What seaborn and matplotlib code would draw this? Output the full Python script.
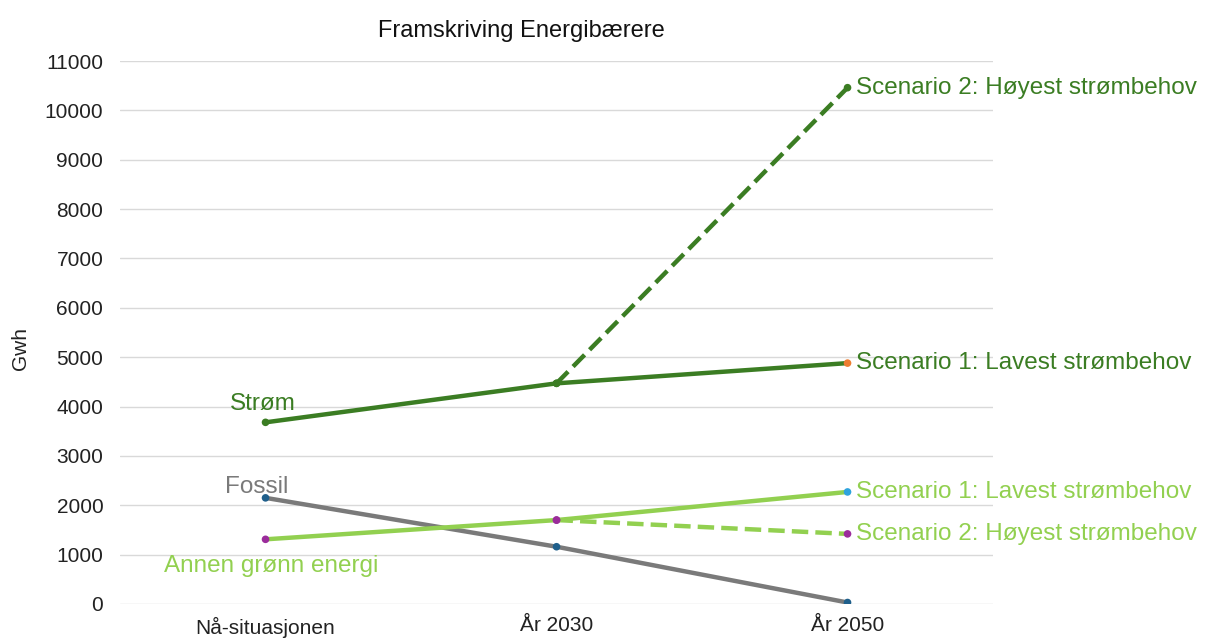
import matplotlib
matplotlib.use("Agg")
import matplotlib.pyplot as plt
import pandas as pd
import seaborn as sns

# data (GWh)
periods = ["Nå-situasjonen", "År 2030", "År 2050"]
strom_s1 = [3680, 4470, 4880]
strom_s2 = [4470, 10460]           # 2030 -> 2050, high-demand scenario
fossil = [2150, 1160, 30]
annen_s1 = [1310, 1700, 2270]
annen_s2 = [1700, 1420]             # 2030 -> 2050, high-demand scenario

DARK_GREEN = "#3b7d23"
LIGHT_GREEN = "#92d050"
GREY = "#7a7a7a"

sns.set_theme(style="white")
plt.rcParams["font.family"] = ["Liberation Sans", "DejaVu Sans"]

fig = plt.figure(figsize=(12.05, 6.39), dpi=100)
ax = fig.add_axes([0.0996, 0.0548, 0.7245, 0.8497])

series = [
    (periods, strom_s1, DARK_GREEN, "-", [DARK_GREEN, DARK_GREEN, "#ed7d31"]),
    (periods[1:], strom_s2, DARK_GREEN, "--", [DARK_GREEN, DARK_GREEN]),
    (periods, fossil, GREY, "-", ["#1f5f8b"] * 3),
    (periods, annen_s1, LIGHT_GREEN, "-", ["#9b2c9b", "#9b2c9b", "#2ea3dd"]),
    (periods[1:], annen_s2, LIGHT_GREEN, "--", ["#9b2c9b", "#9b2c9b"]),
]

# draw lines on a shared categorical axis
for x, y, color, ls, _ in series:
    df = pd.DataFrame({"period": pd.Categorical(x, categories=periods), "gwh": y})
    sns.lineplot(data=df, x="period", y="gwh", color=color, linewidth=3.2,
                 linestyle=ls, sort=False, ax=ax, zorder=2)
for x, y, _, _, dot_colors in series:
    df = pd.DataFrame({"period": pd.Categorical(x, categories=periods), "gwh": y})
    sns.scatterplot(data=df, x="period", y="gwh", color=dot_colors, s=30,
                    edgecolor="none", ax=ax, zorder=3)

ax.set_xlim(-0.5, 2.5)
ax.set_ylim(0, 11000)
ax.set_yticks(range(0, 11001, 1000))
ax.yaxis.grid(True, color="#d9d9d9", linewidth=1)
ax.set_axisbelow(True)
for side in ["top", "right", "left", "bottom"]:
    ax.spines[side].set_visible(False)
ax.tick_params(axis="both", length=0, labelsize=15, colors="#222222")
ax.tick_params(axis="y", pad=12)
ax.tick_params(axis="x", pad=9)
ax.set_xlabel("")
ax.set_ylabel("Gwh", fontsize=15, color="#222222")
ax.yaxis.set_label_coords(-0.103, 0.47)

# inline labels
lab = dict(fontsize=17.5, ha="center", va="center")
ax.text(-0.01, 4050, "Strøm", color=DARK_GREEN, **lab)
ax.text(-0.03, 2380, "Fossil", color=GREY, **lab)
ax.text(0.02, 760, "Annen grønn energi", color=LIGHT_GREEN, **lab)
lab_kw = dict(fontsize=17.5, ha="left", va="center", clip_on=False)
ax.text(2.03, strom_s2[-1], "Scenario 2: Høyest strømbehov", color=DARK_GREEN, **lab_kw)
ax.text(2.03, strom_s1[-1], "Scenario 1: Lavest strømbehov", color=DARK_GREEN, **lab_kw)
ax.text(2.03, annen_s1[-1], "Scenario 1: Lavest strømbehov", color=LIGHT_GREEN, **lab_kw)
ax.text(2.03, annen_s2[-1], "Scenario 2: Høyest strømbehov", color=LIGHT_GREEN, **lab_kw)

fig.text(0.433, 0.952, "Framskriving Energibærere", fontsize=17, ha="center", va="center",
         color="#111111")

fig.savefig("out.png", dpi=100)
